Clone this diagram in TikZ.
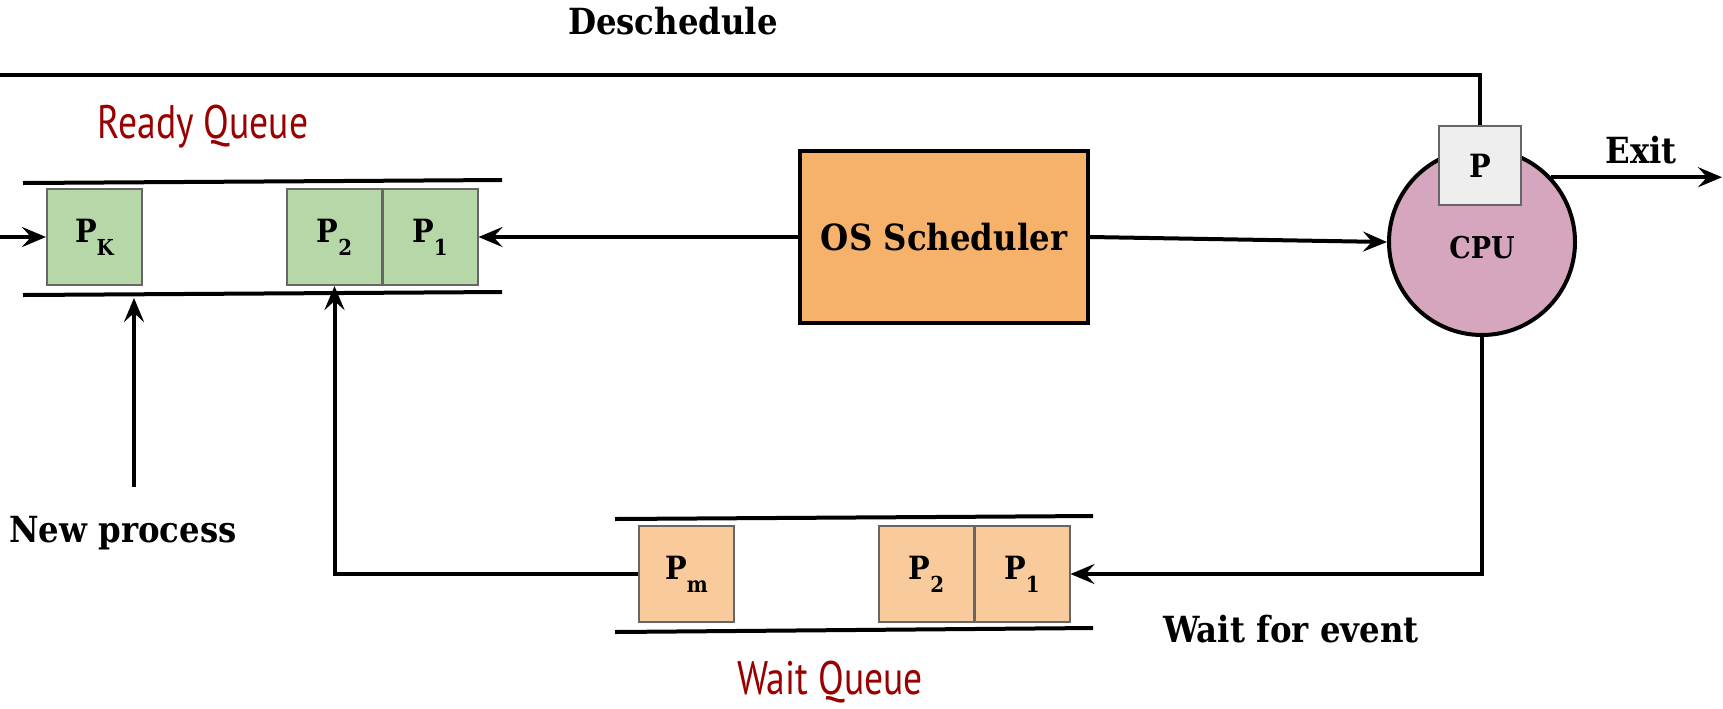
\documentclass[tikz,border=0pt]{standalone}
\usepackage{fontspec}
\setmainfont{DejaVu Serif Condensed}
\newfontfamily\qfont[FakeStretch=0.8]{PT Sans}
\usetikzlibrary{arrows.meta}
\definecolor{rgreen}{HTML}{B6D7A8}
\definecolor{worange}{HTML}{F9CB9C}
\definecolor{osorange}{HTML}{F6B26B}
\definecolor{cpupink}{HTML}{D5A6BD}
\definecolor{pgray}{HTML}{EEEEEE}
\definecolor{procborder}{HTML}{666666}
\definecolor{qred}{HTML}{990000}
\newcommand\psub[1]{\raisebox{-6.5pt}{\fontsize{11}{11}\selectfont #1}}
\begin{document}
\begin{tikzpicture}[x=0.5pt,y=-0.5pt,
  arr/.style={line width=2pt,-{Stealth[length=12pt,width=10pt,inset=4.5pt]}},
  plain/.style={line width=2pt},
  qline/.style={line width=2pt},
  proc/.style={draw=procborder,line width=1pt,minimum width=47.5pt,minimum height=48pt,inner sep=0pt,font=\fontsize{16}{16}\selectfont\bfseries},
  lbl/.style={font=\fontsize{18}{18}\selectfont\bfseries},
  qlbl/.style={font=\qfont\fontsize{23.5}{24}\selectfont, text=qred}]
\useasboundingbox (0,0) rectangle (1723,708);
% queue rails
\draw[qline] (23,183) -- (502,180);
\draw[qline] (23,295) -- (502,292);
\draw[qline] (615,519) -- (1093,516);
\draw[qline] (615,632) -- (1093,628);
% ready queue
\node[proc,fill=rgreen] (pk) at (94.5,237) {P\psub{K}};
\node[proc,fill=rgreen] (rp2) at (334.5,237) {P\psub{2}};
\node[proc,fill=rgreen] (rp1) at (430,237) {P\psub{1}};
% wait queue
\node[proc,fill=worange] (wpm) at (686.5,574) {P\psub{m}};
\node[proc,fill=worange] (wp2) at (926.5,574) {P\psub{2}};
\node[proc,fill=worange] (wp1) at (1022,574) {P\psub{1}};
% scheduler
\node[draw,line width=2pt,fill=osorange,minimum width=144pt,minimum height=86pt,inner sep=0pt,font=\fontsize{18}{18}\selectfont\bfseries] (os) at (944,237) {OS Scheduler};
% cpu
\node[circle,draw,line width=2pt,fill=cpupink,minimum size=93pt,inner sep=0pt] (cpu) at (1482,242) {};
\node[font=\fontsize{15}{15}\selectfont\bfseries] (cpulbl) at (1482,248) {CPU};
\node[draw=procborder,line width=1pt,fill=pgray,minimum width=41pt,minimum height=39.5pt,inner sep=0pt,font=\fontsize{16}{16}\selectfont\bfseries] (pbox) at (1480,165.5) {P};
% coordinates
\coordinate (topL) at (0,75);
\coordinate (inL) at (0,237);
\coordinate (exitE) at (1722,0);
\coordinate (npS) at (134,487);
\coordinate (npT) at (134,298);
% connectors
\draw[plain] (pbox.north) -- (pbox.north |- topL) -- (topL);
\draw[arr] (inL) -- (pk.west);
\draw[arr] (os.west) -- (rp1.east);
\draw[arr] (os.east) -- (cpu.west);
\draw[arr] (cpu.43) -- (cpu.43 -| exitE);
\draw[arr] (cpu.south) |- (wp1.east);
\draw[arr] (wpm.west) -| (rp2.south);
\draw[arr] (npS) -- (npT);
% labels
\node[lbl] (desch) at (673,21) {Deschedule};
\node[lbl] (newp) at (123,533) {New process};
\node[lbl] (wfe) at (1291,629) {Wait for event};
\node[lbl] (exit) at (1641,150) {Exit};
\node[qlbl] (rq) at (203,127) {Ready Queue};
\node[qlbl,anchor=base] (wq) at (830,694) {Wait Queue};
\end{tikzpicture}
\end{document}
